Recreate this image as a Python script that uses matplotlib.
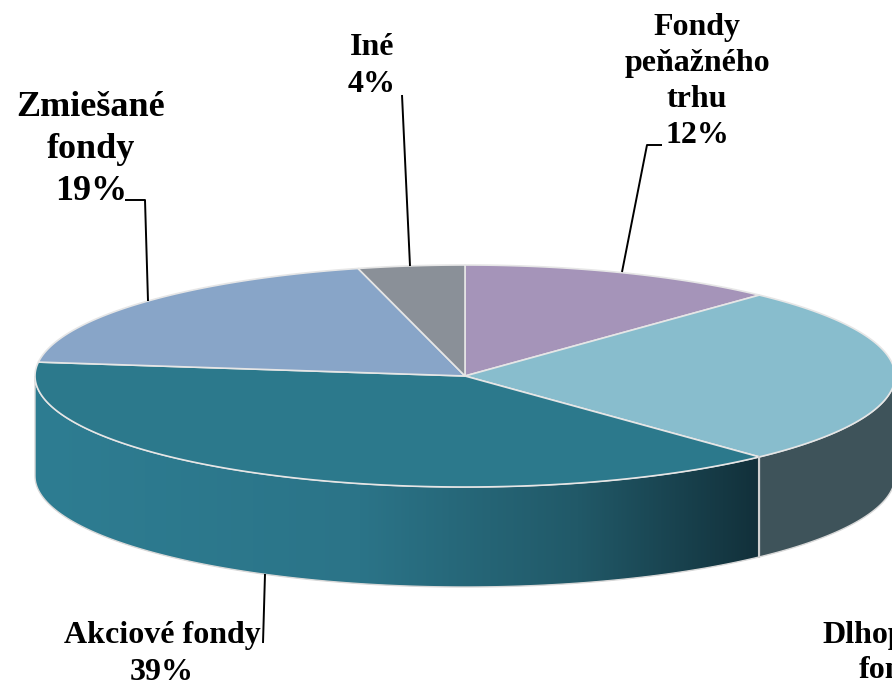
import numpy as np
import matplotlib.pyplot as plt
from matplotlib.patches import Polygon
from matplotlib.colors import LinearSegmentedColormap

# slices, clockwise from 12 o'clock
labels = [['Fondy', 'peňažného', 'trhu'], ['Dlhopisové', 'fondy'], ['Akciové fondy'],
          ['Zmiešané', 'fondy'], ['Iné']]
values = [12, 26, 39, 19, 4]
top_colors = ['#A594B9', '#88BDCD', '#2C798C', '#88A5C8', '#8A9098']
side_colors = ['#6E6380', '#3E535A', None, '#5C7090', '#5E636A']

# pie geometry in pixels
cx, cy, a, b, depth = 465, 376, 430, 111, 100


def pt(theta, dy=0.0):
    t = np.radians(theta)
    return cx + a * np.sin(t), cy - b * np.cos(t) + dy


fig = plt.figure(figsize=(8.92, 6.85), dpi=100)
ax = fig.add_axes([0, 0, 1, 1])
ax.set_xlim(0, 892)
ax.set_ylim(685, 0)
ax.axis('off')

bounds = np.concatenate([[0], np.cumsum(values)]) / sum(values) * 360

# sides (front half, 90..270 deg)
for i in range(len(values)):
    s, e = max(bounds[i], 90), min(bounds[i + 1], 270)
    if e <= s:
        continue
    th = np.linspace(s, e, 120)
    tx, ty = pt(th)
    bx, by = pt(th[::-1], depth)
    poly = np.column_stack([np.concatenate([tx, bx]), np.concatenate([ty, by])])
    if side_colors[i] is None:
        patch = Polygon(poly, closed=True, facecolor='none', edgecolor='none')
        ax.add_patch(patch)
        cmap = LinearSegmentedColormap.from_list('side', [(0, '#2E7D92'), (0.45, '#2B7488'),
                                                          (0.75, '#215968'), (1, '#12303A')])
        grad = np.linspace(0, 1, 256).reshape(1, -1)
        im = ax.imshow(grad, cmap=cmap, aspect='auto',
                       extent=(poly[:, 0].min(), poly[:, 0].max(), poly[:, 1].max(), poly[:, 1].min()))
        im.set_clip_path(patch)
        ax.add_patch(Polygon(poly, closed=True, facecolor='none', edgecolor='#D8D8D8', lw=1))
    else:
        ax.add_patch(Polygon(poly, closed=True, facecolor=side_colors[i], edgecolor='#D8D8D8', lw=1))

# vertical seam between side faces
for bd in bounds[1:-1]:
    if 90 < bd < 270:
        x0, y0 = pt(bd)
        ax.plot([x0, x0], [y0, y0 + depth], color='#D0D0D0', lw=1.5)

# tops
for i in range(len(values)):
    th = np.linspace(bounds[i], bounds[i + 1], 200)
    tx, ty = pt(th)
    poly = np.column_stack([np.concatenate([[cx], tx]), np.concatenate([[cy], ty])])
    ax.add_patch(Polygon(poly, closed=True, facecolor=top_colors[i], edgecolor='#E6E6E6', lw=1.2))

# leader lines
lk = dict(color='black', lw=1.4, solid_capstyle='butt')
ax.plot([402, 410], [95, 266], **lk)
ax.plot([662, 647, 622], [145, 145, 272], **lk)
ax.plot([125, 145, 148], [200, 200, 301], **lk)
ax.plot([265, 263], [574, 643], **lk)

# labels: (center x, first baseline, line step, size)
label_pos = [(697, 35, 36, 23), (898, 643, 35, 23), (162, 643, 37, 23),
             (91, 116, 42, 26), (372, 55, 37, 23)]
for lines, v, (x, y0, step, fs) in zip(labels, values, label_pos):
    for j, line in enumerate(lines + [f'{v}%']):
        ax.text(x, y0 + j * step, line, ha='center', va='baseline', fontsize=fs,
                fontweight='bold', family='Liberation Serif', color='black')

fig.savefig('out.png', dpi=100)
